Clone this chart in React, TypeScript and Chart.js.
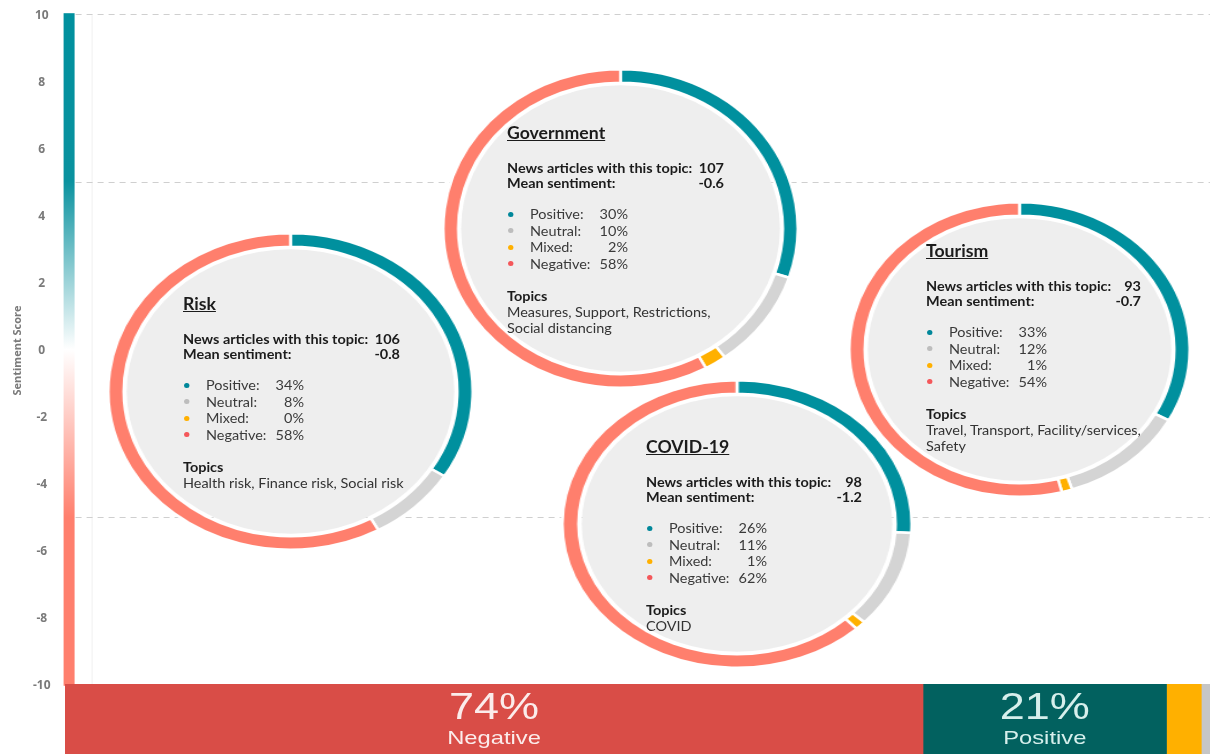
import React, { useEffect, useRef } from "react";
import { Chart, registerables } from "chart.js";
Chart.register(...registerables);

// ---------- data ----------
const yMin = -10;
const yMax = 10;
const yStep = 2;
const gridValues = [10, 5, -5];
const axisTitle = "Sentiment Score";

const topicNames = ["Government", "Risk", "COVID-19", "Tourism"];
const articleCounts = [107, 106, 98, 93];
const meanSentiments = ["-0.6", "-0.8", "-1.2", "-0.7"];
const sentimentLabels = ["Positive", "Neutral", "Mixed", "Negative"];
const positiveShares = [30, 34, 26, 33];
const neutralShares = [10, 8, 11, 12];
const mixedShares = [2, 0, 1, 1];
const negativeShares = [58, 58, 62, 54];
const topicKeywords = [
  ["Measures, Support, Restrictions,", "Social distancing"],
  ["Health risk, Finance risk, Social risk"],
  ["COVID"],
  ["Travel, Transport, Facility/services,", "Safety"],
];

const overallLabels = ["Negative", "Positive", "Mixed", "Neutral"];
const overallShares = [74, 21, 3, 2];
const overallVisibleMax = 98.75;

// ---------- layout & style ----------
const ringColors = ["#00909E", "#D4D4D4", "#FFB000", "#FF7F6D"];
const bulletColors = ["#00879A", "#BDBDBD", "#FFB000", "#F4575A"];
const barColors = ["#D94D47", "#02615F", "#FFB000", "#C6C6C6"];
const barTextColors = ["#FBECEB", "#D6EFEC"];

// same order as topicNames
const bubbleLayout = [
  { cx: 620, cy: 228, w: 354, h: 318, tx: 507, ty: 133, tw: 217 },
  { cx: 290, cy: 391, w: 364, h: 316, tx: 183, ty: 304, tw: 217 },
  { cx: 737, cy: 524, w: 349, h: 287, tx: 646, ty: 447, tw: 216 },
  { cx: 1019, cy: 349, w: 340, h: 294, tx: 926, ty: 251, tw: 215 },
];
const drawOrder = [0, 1, 3, 2];
const textFont = "Lato, 'Open Sans', sans-serif";
const textStretch = 1.07;

const mainPlugin = {
  id: "mainDecor",
  beforeDatasetsDraw(chart: any) {
    const { ctx, chartArea, scales } = chart;
    const y = scales.y;
    const left = chartArea.left;
    ctx.save();
    // axis title
    ctx.fillStyle = "#7A7A7A";
    ctx.font = "bold 11px 'Open Sans', sans-serif";
    ctx.textAlign = "center";
    ctx.textBaseline = "middle";
    ctx.translate(18, y.getPixelForValue(0));
    ctx.rotate(-Math.PI / 2);
    ctx.fillText(axisTitle, 0, 0);
    ctx.restore();
    ctx.save();
    // faint vertical guide
    ctx.strokeStyle = "#F0F0F0";
    ctx.lineWidth = 1;
    ctx.beginPath();
    ctx.moveTo(left + 28.5, y.getPixelForValue(yMax));
    ctx.lineTo(left + 28.5, y.getPixelForValue(yMin));
    ctx.stroke();
    // dashed grid lines
    ctx.strokeStyle = "#CFCFCF";
    ctx.setLineDash([6, 5]);
    gridValues.forEach((v) => {
      const py = Math.round(y.getPixelForValue(v)) - 0.5;
      ctx.beginPath();
      ctx.moveTo(left + 12, py);
      ctx.lineTo(chartArea.right, py);
      ctx.stroke();
    });
    ctx.setLineDash([]);
    // gradient sentiment bar
    const top = y.getPixelForValue(yMax) - 2;
    const bottom = y.getPixelForValue(yMin);
    const g = ctx.createLinearGradient(0, top, 0, bottom);
    g.addColorStop(0, "#00909E");
    g.addColorStop(0.25, "#0A929F");
    g.addColorStop(0.5, "#FFFFFF");
    g.addColorStop(0.75, "#FF7F6D");
    g.addColorStop(1, "#FF7F6D");
    ctx.fillStyle = g;
    ctx.fillRect(left, top, 11, bottom - top);
    ctx.restore();
  },
};

const innerDiscPlugin = {
  id: "innerDisc",
  beforeDatasetsDraw(chart: any) {
    const arc = chart.getDatasetMeta(0).data[0];
    if (!arc) return;
    const { ctx } = chart;
    ctx.save();
    ctx.fillStyle = "#EEEEEE";
    ctx.beginPath();
    ctx.arc(arc.x, arc.y, Math.max(arc.innerRadius - 2.5, 0), 0, Math.PI * 2);
    ctx.fill();
    ctx.restore();
  },
};

const barLabelPlugin = {
  id: "barLabels",
  afterDatasetsDraw(chart: any) {
    const { ctx } = chart;
    [0, 1].forEach((di) => {
      const el = chart.getDatasetMeta(di).data[0];
      if (!el) return;
      const cx = (el.x + el.base) / 2;
      ctx.save();
      ctx.fillStyle = barTextColors[di];
      ctx.textAlign = "center";
      ctx.textBaseline = "middle";
      ctx.translate(cx, 0);
      ctx.scale(1.25, 1);
      ctx.font = "36px 'Liberation Sans', Arial, sans-serif";
      ctx.fillText(`${overallShares[di]}%`, 0, 25);
      ctx.font = "19px 'Liberation Sans', Arial, sans-serif";
      ctx.fillText(overallLabels[di], 0, 55);
      ctx.restore();
    });
  },
};

function TopicText({ i }: { i: number }) {
  const L = bubbleLayout[i];
  const tw = L.tw / textStretch;
  const line = (off: number, lh: number) => ({
    position: "absolute" as const,
    left: 0,
    top: off - lh / 2,
    height: lh,
    lineHeight: `${lh}px`,
    whiteSpace: "nowrap" as const,
    fontFamily: textFont,
  });
  const shares = [positiveShares[i], neutralShares[i], mixedShares[i], negativeShares[i]];
  const legendOffsets = [81, 97.5, 114, 130.5];
  return (
    <div
      style={{
        position: "absolute",
        left: L.tx,
        top: L.ty,
        width: tw,
        height: 0,
        transform: `scaleX(${textStretch})`,
        transformOrigin: "0 0",
      }}
    >
      <div style={{ ...line(0, 20), fontSize: 16.5, fontWeight: 700, color: "#1B1B1B", textDecoration: "underline" }}>
        {topicNames[i]}
      </div>
      <div style={{ ...line(35, 16), width: tw, display: "flex", justifyContent: "space-between", fontSize: 13.5, fontWeight: 700, color: "#1B1B1B" }}>
        <span>News articles with this topic:</span>
        <span>{articleCounts[i]}</span>
      </div>
      <div style={{ ...line(50, 16), width: tw, display: "flex", justifyContent: "space-between", fontSize: 13.5, fontWeight: 700, color: "#1B1B1B" }}>
        <span>Mean sentiment:</span>
        <span>{meanSentiments[i]}</span>
      </div>
      {sentimentLabels.map((lab, k) => (
        <React.Fragment key={lab}>
          <div
            style={{
              position: "absolute",
              left: 1,
              top: legendOffsets[k] - 2.5,
              width: 5 / textStretch,
              height: 5,
              borderRadius: "50%",
              background: bulletColors[k],
            }}
          />
          <div style={{ ...line(legendOffsets[k], 16), left: 23 / textStretch, width: 98 / textStretch, display: "flex", justifyContent: "space-between", fontSize: 13.5, color: "#3A3A3A" }}>
            <span>{lab}:</span>
            <span>{shares[k]}%</span>
          </div>
        </React.Fragment>
      ))}
      <div style={{ ...line(163, 16), fontSize: 13.5, fontWeight: 700, color: "#1B1B1B" }}>Topics</div>
      {topicKeywords[i].map((t, k) => (
        <div key={k} style={{ ...line(179 + 16 * k, 16), fontSize: 13.5, color: "#333333" }}>
          {t}
        </div>
      ))}
    </div>
  );
}

export default function App() {
  const mainRef = useRef<HTMLCanvasElement>(null);
  const barRef = useRef<HTMLCanvasElement>(null);
  const ringRefs = useRef<(HTMLCanvasElement | null)[]>([]);

  useEffect(() => {
    document.body.style.margin = "0";
    const charts: Chart[] = [];

    charts.push(
      new Chart(mainRef.current!, {
        type: "scatter",
        data: { datasets: [{ data: [] }] },
        plugins: [mainPlugin],
        options: {
          animation: false,
          responsive: true,
          maintainAspectRatio: false,
          layout: { padding: { top: 1, bottom: 3, left: 20, right: 0 } },
          plugins: { legend: { display: false }, tooltip: { enabled: false } },
          scales: {
            x: { type: "linear", display: false, min: 0, max: 1 },
            y: {
              min: yMin,
              max: yMax,
              ticks: {
                stepSize: yStep,
                color: "#7A7A7A",
                crossAlign: "center",
                padding: 13,
                font: { family: "'Open Sans', sans-serif", size: 12, weight: "bold" },
              },
              grid: { display: false, drawTicks: false },
              border: { display: false },
            },
          },
        },
      } as any)
    );

    topicNames.forEach((_, i) => {
      const L = bubbleLayout[i];
      const thickness = 13.5;
      charts.push(
        new Chart(ringRefs.current[i]!, {
          type: "doughnut",
          data: {
            labels: sentimentLabels,
            datasets: [
              {
                data: [positiveShares[i], neutralShares[i], mixedShares[i], negativeShares[i]],
                backgroundColor: ringColors,
                borderColor: "#FFFFFF",
                borderWidth: 2.5,
              },
            ],
          },
          plugins: [innerDiscPlugin],
          options: {
            animation: false,
            responsive: true,
            maintainAspectRatio: false,
            cutout: `${100 * (1 - thickness / (L.h / 2))}%`,
            plugins: { legend: { display: false }, tooltip: { enabled: false } },
          },
        } as any)
      );
    });

    charts.push(
      new Chart(barRef.current!, {
        type: "bar",
        data: {
          labels: ["Overall"],
          datasets: overallLabels.map((lab, k) => ({
            label: lab,
            data: [overallShares[k]],
            backgroundColor: barColors[k],
            borderWidth: 0,
            barPercentage: 1,
            categoryPercentage: 1,
          })),
        },
        plugins: [barLabelPlugin],
        options: {
          animation: false,
          responsive: true,
          maintainAspectRatio: false,
          indexAxis: "y",
          layout: { padding: 0 },
          plugins: { legend: { display: false }, tooltip: { enabled: false } },
          scales: {
            x: { stacked: true, display: false, min: 0, max: overallVisibleMax },
            y: { stacked: true, display: false },
          },
        },
      } as any)
    );

    return () => charts.forEach((c) => c.destroy());
  }, []);

  return (
    <div style={{ position: "relative", width: 1210, height: 754, overflow: "hidden", background: "#FFFFFF" }}>
      <div style={{ position: "absolute", left: 0, top: -5, width: 1210, height: 711 }}>
        <canvas ref={mainRef} />
      </div>
      {drawOrder.map((i) => {
        const L = bubbleLayout[i];
        const size = L.h + 3;
        return (
          <React.Fragment key={topicNames[i]}>
            <div
              style={{
                position: "absolute",
                left: L.cx - size / 2,
                top: L.cy - size / 2,
                width: size,
                height: size,
                transform: `scaleX(${L.w / L.h})`,
                transformOrigin: "center center",
              }}
            >
              <canvas ref={(el) => (ringRefs.current[i] = el)} />
            </div>
            <TopicText i={i} />
          </React.Fragment>
        );
      })}
      <div style={{ position: "absolute", left: 65, top: 684, width: 1145, height: 70 }}>
        <canvas ref={barRef} />
      </div>
    </div>
  );
}
